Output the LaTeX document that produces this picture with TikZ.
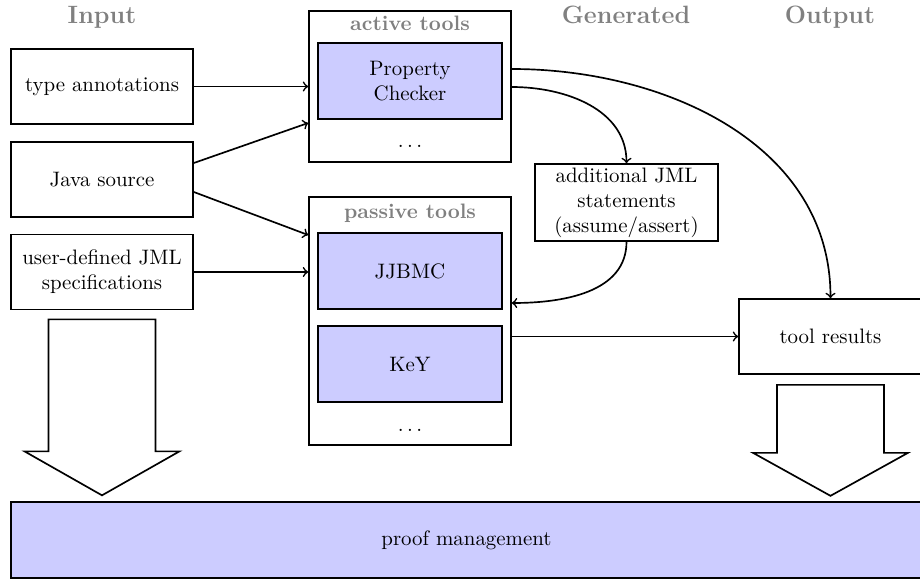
\documentclass[tikz,border=0pt]{standalone}
\usetikzlibrary{calc}
\begin{document}
\begin{tikzpicture}[x=0.4785pt,y=-0.4785pt,
  box/.style={draw,thick,minimum width=182*0.4785pt,minimum height=75*0.4785pt,inner sep=1pt,align=center},
  toolbox/.style={draw,thick,fill=blue!20,minimum width=184*0.4785pt,minimum height=76*0.4785pt,inner sep=1pt,align=center},
  outerbox/.style={draw,thick,minimum width=202*0.4785pt,inner sep=0pt},
  title/.style={font=\large\bfseries,text=gray,anchor=base},
  sublabel/.style={font=\bfseries,text=gray,anchor=base},
  conn/.style={thick,->},
  bigarrow/.style={thick,line join=miter}]
\useasboundingbox (0,0) rectangle (920,581);
% titles
\node[title] (tin) at (102,23) {Input};
\node[title] (tgen) at (626,23) {Generated};
\node[title] (tout) at (830,23) {Output};
% inputs
\node[box] (ta) at (102,86.5) {type annotations};
\node[box] (js) at (102,179.5) {Java source};
\node[box] (ud) at (102,272) {user-defined JML\\specifications};
% active tools
\node[outerbox,minimum height=151*0.4785pt] (act) at (410,86.5) {};
\node[sublabel] (actl) at (410,31) {active tools};
\node[toolbox] (pc) at (410,81) {Property\\Checker};
\node[anchor=base] (actd) at (410,147) {$\dots$};
% passive tools
\node[outerbox,minimum height=248*0.4785pt] (pas) at (410,321) {};
\node[sublabel] (pasl) at (410,219) {passive tools};
\node[toolbox] (jj) at (410,271) {JJBMC};
\node[toolbox] (key) at (410,364) {KeY};
\node[anchor=base] (pasd) at (410,431) {$\dots$};
% generated
\node[box,minimum width=183*0.4785pt,minimum height=77*0.4785pt] (gen) at (626.5,202.5) {additional JML\\statements\\(assume/assert)};
% output
\node[box,minimum width=183*0.4785pt] (tr) at (830.5,336.5) {tool results};
% proof management
\node[draw,thick,fill=blue!20,minimum width=911*0.4785pt,minimum height=76*0.4785pt] (pm) at (466.5,540) {proof management};
% connectors
\draw[conn] (ta.east) -- (act.west);
\draw[conn] ($(js.east)+(0,-16.5)$) -- ($(act.west)+(0,36.5)$);
\draw[conn] ($(js.east)+(0,12.5)$) -- ($(pas.west)+(0,-86)$);
\draw[conn] (ud.east) -- (pas.west |- ud.east);
\draw[conn] ($(act.east)+(0,-17.5)$) to[out=0,in=90] (tr.north);
\draw[conn] ($(act.east)+(0,0.5)$) to[out=0,in=90] (gen.north);
\draw[conn] (gen.south) to[out=-90,in=0] ($(pas.east)+(0,-18)$);
\draw[conn] (pas.east |- tr.west) -- (tr.west);
% big arrows
\draw[bigarrow] ($(ud.south)+(-53.5,9)$) -- ++(107,0) -- ++(0,132) -- ++(24,0)
  -- ($(ud.south)+(0,185)$) -- ($(ud.south)+(-77.5,141)$) -- ++(24,0) -- cycle;
\draw[bigarrow] ($(tr.south)+(-53.5,10)$) -- ++(107,0) -- ++(0,68) -- ++(24,0)
  -- ($(tr.south)+(0,121)$) -- ($(tr.south)+(-77.5,78)$) -- ++(24,0) -- cycle;
\end{tikzpicture}
\end{document}
